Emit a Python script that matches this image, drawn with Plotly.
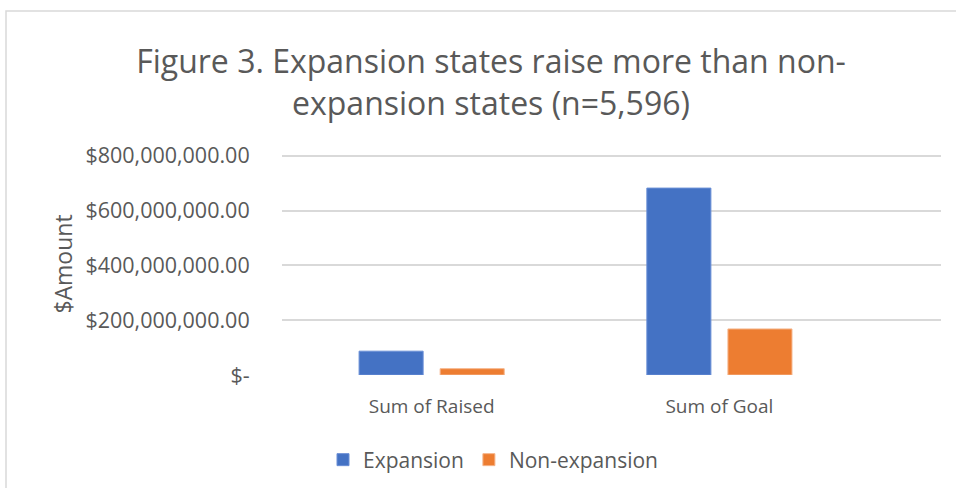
import plotly.graph_objects as go

categories = ["Sum of Raised", "Sum of Goal"]
expansion = [87_000_000, 682_000_000]
non_expansion = [23_000_000, 168_000_000]
tick_values = [0, 200_000_000, 400_000_000, 600_000_000, 800_000_000]
tick_labels = ["$-", "$200,000,000.00", "$400,000,000.00", "$600,000,000.00", "$800,000,000.00"]

W, H = 956, 488
ml, mr, mt, mb = 282, 15, 153, 113
pw = W - ml - mr
ph = H - mt - mb

fig = go.Figure()
fig.add_trace(go.Bar(name="Expansion", x=categories, y=expansion,
                     marker=dict(color="#4472C4", line=dict(color="#6A8FD6", width=1))))
fig.add_trace(go.Bar(name="Non-expansion", x=categories, y=non_expansion,
                     marker=dict(color="#ED7D31", line=dict(color="#F5B48A", width=1))))

font_family = "Open Sans"
grey = "#595959"

fig.update_layout(
    width=W, height=H,
    margin=dict(l=ml, r=mr, t=mt, b=mb, autoexpand=False),
    paper_bgcolor="white", plot_bgcolor="white",
    barmode="group", bargap=0.4365, bargroupgap=0.21,
    title=dict(text="Figure 3. Expansion states raise more than non-<br>expansion states (n=5,596)",
               x=491 / W, xanchor="center", xref="container", y=1 - 73 / H, yanchor="middle",
               font=dict(family=font_family, size=32, color=grey)),
    font=dict(family=font_family, color=grey),
    showlegend=True,
    legend=dict(orientation="h", x=(493 - ml) / pw, xanchor="center",
                y=-(460 - (mt + ph)) / ph, yanchor="middle",
                font=dict(size=21, color=grey), itemwidth=30, traceorder="normal"),
    xaxis=dict(range=[-0.52, 1.77], showgrid=False, zeroline=False, showline=False,
               tickfont=dict(size=19, color=grey), ticks="outside", ticklen=14,
               tickcolor="rgba(0,0,0,0)"),
    yaxis=dict(range=[0, 810_000_000], tickvals=tick_values, ticktext=tick_labels,
               showgrid=True, gridcolor="#D9D9D9", gridwidth=1.5, zeroline=False,
               showline=False, tickfont=dict(size=21.5, color=grey), ticks="outside",
               ticklen=27, tickcolor="rgba(0,0,0,0)",
               title=dict(text="$Amount", font=dict(size=23, color=grey), standoff=6)),
)

# chart border (Excel chart area outline)
fig.add_shape(type="rect", xref="paper", yref="paper",
              x0=(6 - ml) / pw, x1=(W + 10 - ml) / pw,
              y0=-(H + 10 - mt - ph) / ph, y1=1 + (mt - 11) / ph,
              line=dict(color="#D9D9D9", width=1.5), fillcolor="rgba(0,0,0,0)", layer="below")

fig.write_html("out.html", config={"displayModeBar": False},
               post_script="document.body.style.margin='0';document.body.style.overflow='hidden';")
